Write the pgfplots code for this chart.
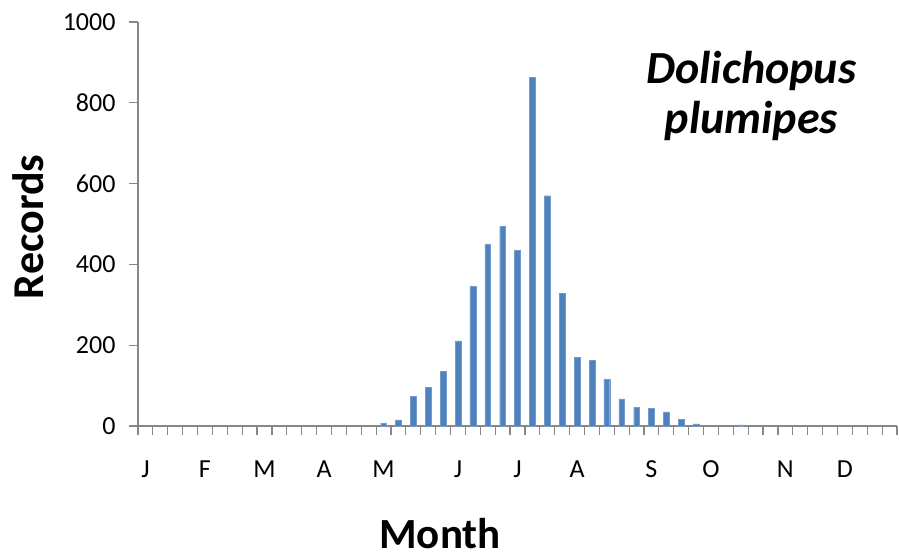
\documentclass[border=0pt]{standalone}
\usepackage{fontspec}
\setmainfont{Carlito}
\usepackage{pgfplots}
\pgfplotsset{compat=1.18}
\definecolor{barblue}{HTML}{4F81BD}
\definecolor{axgray}{HTML}{868686}
\begin{document}
\begin{tikzpicture}
\begin{axis}[
  at={(0pt,0pt)}, anchor=south west,
  scale only axis, width=759pt, height=404pt,
  xmin=-0.5, xmax=50.5, ymin=0, ymax=1000,
  axis x line*=bottom, axis y line*=left,
  axis line style={axgray, line width=1.2pt},
  tick style={axgray, line width=1.2pt},
  tick align=outside,
  ytick={0,200,400,600,800,1000},
  xtick={0,4,8,12,16,21,25,29,34,38,43,47},
  xticklabels={J,F,M,A,M,J,J,A,S,O,N,D},
  minor xtick={-0.5,0.5,...,50.5},
  major x tick style={draw=none},
  minor tick length=9pt, major tick length=9pt,
  ticklabel style={font=\fontsize{26}{26}\selectfont},
  /pgf/number format/assume math mode=true,
  /pgf/number format/1000 sep={},
  xticklabel style={anchor=base, yshift=-42pt},
  yticklabel style={xshift=-10pt},
  xlabel={Month},
  xlabel style={font=\fontsize{43}{43}\selectfont\bfseries, inner sep=0pt, at={(axis description cs:0.398,0)}, anchor=base, yshift=-122pt},
  ylabel={Records},
  ylabel style={font=\fontsize{44}{44}\selectfont\bfseries, at={(axis description cs:-0.1449,0.493)}, anchor=center},
  ybar, bar width=5.8pt,
  clip=false,
]
\addplot[fill=barblue, draw=barblue!80!white, line width=0.3pt] coordinates {
(16,7) (17,15) (18,73) (19,95) (20,135) (21,211) (22,345) (23,449) (24,494) (25,435)
(26,863) (27,570) (28,329) (29,170) (30,162) (31,116) (32,67) (33,46) (34,43) (35,35)
(36,16) (37,5) (40,3)
};
\node[font=\fontsize{46}{50}\selectfont\bfseries\itshape, align=center] at (rel axis cs:0.808,0.817) {Dolichopus\\plumipes};
\end{axis}
\pgfresetboundingbox
\path[use as bounding box] (-138pt,-133pt) rectangle (761pt,426pt);
\end{tikzpicture}
\end{document}
